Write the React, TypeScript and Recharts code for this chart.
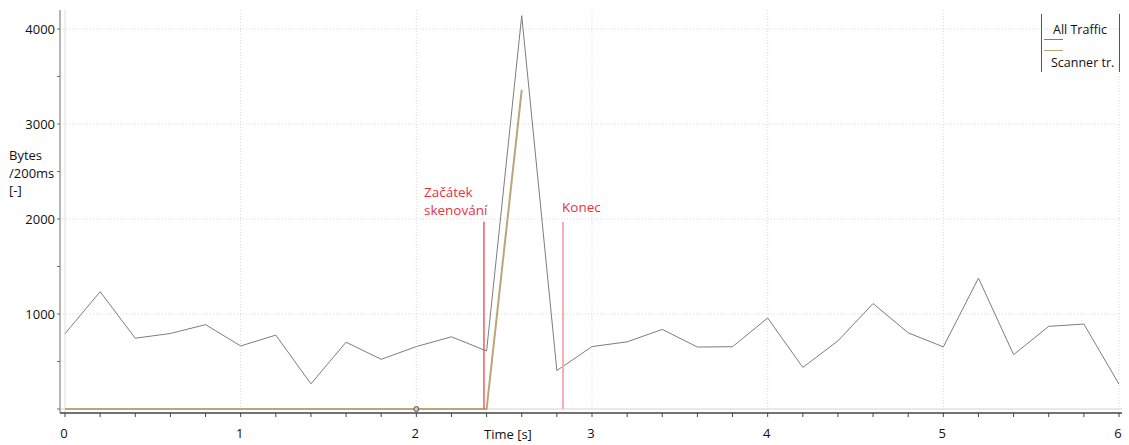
import React from 'react';
import {
  LineChart,
  Line,
  XAxis,
  YAxis,
  ReferenceLine,
  ReferenceDot,
  Legend,
} from 'recharts';

// Sample times in seconds (one sample every 200 ms)
const times = [
  0, 0.2, 0.4, 0.6, 0.8, 1, 1.2, 1.4, 1.6, 1.8, 2, 2.2, 2.4, 2.6, 2.8, 3,
  3.2, 3.4, 3.6, 3.8, 4, 4.2, 4.4, 4.6, 4.8, 5, 5.2, 5.4, 5.6, 5.8, 6,
];

// Bytes per 200 ms window, all traffic
const allTraffic = [
  793, 1235, 745, 795, 888, 664, 778, 265, 703, 523, 657, 760, 611, 4140, 405,
  657, 707, 838, 652, 656, 958, 438, 717, 1110, 802, 654, 1378, 572, 870, 894,
  262,
];

// Bytes per 200 ms window, scanner traffic only (recorded until 2.6 s)
const scannerTraffic: (number | null)[] = [
  0, 0, 0, 0, 0, 0, 0, 0, 0, 0, 0, 0, 0, 3360, null, null, null, null, null,
  null, null, null, null, null, null, null, null, null, null, null, null,
];

// Axis ticks
const xTicks = times;
const xLabelTicks = [0, 1, 2, 3, 4, 5, 6];
const yTicks = [0, 500, 1000, 1500, 2000, 2500, 3000, 3500, 4000];
const yLabelTicks = [1000, 2000, 3000, 4000];

// Scan markers
const scanStart = 2.385;
const scanEnd = 2.835;
const markerTop = 1970;
const startLabel = ['Začátek', 'skenování'];
const endLabel = 'Konec';

const seriesNames = { all: 'All Traffic', scanner: 'Scanner tr.' };
const yAxisTitle = ['Bytes', '/200ms', '[-]'];
const xAxisTitle = 'Time [s]';

const data = times.map((t, i) => ({
  t,
  all: allTraffic[i],
  scanner: scannerTraffic[i],
}));

const FONT = '"Open Sans", "Noto Sans", sans-serif';
const RED = '#e8323c';

const isLabelTick = (v: number, list: number[]) =>
  list.some((l) => Math.abs(l - v) < 1e-6);

const XTick = (props: any) => {
  const { x, y, payload } = props;
  if (!isLabelTick(payload.value, xLabelTicks)) return <g />;
  return (
    <text
      x={x - 1}
      y={y + 9}
      textAnchor="middle"
      fontFamily={FONT}
      fontSize={13}
      fill="#111"
    >
      {payload.value}
    </text>
  );
};

const YTick = (props: any) => {
  const { x, y, payload } = props;
  if (!isLabelTick(payload.value, yLabelTicks)) return <g />;
  return (
    <text
      x={x}
      y={y}
      dy="0.36em"
      textAnchor="end"
      fontFamily={FONT}
      fontSize={13}
      fill="#111"
    >
      {payload.value}
    </text>
  );
};

const LegendBox = (props: any) => {
  const payload = props.payload || [];
  const all = payload.find((p: any) => p.dataKey === 'all');
  const sc = payload.find((p: any) => p.dataKey === 'scanner');
  return (
    <div
      style={{
        position: 'relative',
        width: 77,
        height: 58,
        borderLeft: '1px solid #555',
        borderRight: '1px solid #555',
        fontFamily: FONT,
        fontSize: 12.5,
        color: '#111',
        lineHeight: '15px',
      }}
    >
      <div style={{ position: 'absolute', left: 11, top: 8, whiteSpace: 'nowrap' }}>
        {all ? all.value : ''}
      </div>
      <div
        style={{
          position: 'absolute',
          left: 2,
          top: 25,
          width: 19,
          height: 1,
          background: all ? all.color : '#808080',
        }}
      />
      <div
        style={{
          position: 'absolute',
          left: 2,
          top: 36,
          width: 19,
          height: 1,
          background: sc ? sc.color : '#b8a070',
        }}
      />
      <div style={{ position: 'absolute', left: 9, top: 41, whiteSpace: 'nowrap' }}>
        {sc ? sc.value : ''}
      </div>
    </div>
  );
};

const StartLabel = (props: any) => {
  const { viewBox } = props;
  const x = viewBox.x - 60;
  const y = viewBox.y - 25;
  return (
    <text x={x} y={y} fontFamily={FONT} fontSize={13.5} fill={RED}>
      <tspan x={x} y={y}>{startLabel[0]}</tspan>
      <tspan x={x} y={y + 18}>{startLabel[1]}</tspan>
    </text>
  );
};

const EndLabel = (props: any) => {
  const { viewBox } = props;
  return (
    <text
      x={viewBox.x - 1}
      y={viewBox.y - 10}
      fontFamily={FONT}
      fontSize={13.5}
      fill={RED}
    >
      {endLabel}
    </text>
  );
};

const YTitle = () => (
  <text fontFamily={FONT} fontSize={13} fill="#111">
    {yAxisTitle.map((s, i) => (
      <tspan key={s} x={9} y={160 + i * 17.5}>
        {s}
      </tspan>
    ))}
  </text>
);

const XTitle = (props: any) => {
  const { viewBox } = props;
  return (
    <text
      x={viewBox.x + 424}
      y={viewBox.y + 26}
      fontFamily={FONT}
      fontSize={13}
      fill="#111"
    >
      {xAxisTitle}
    </text>
  );
};

export default function App() {
  return (
    <div style={{ position: 'absolute', left: 0, top: 0 }}>
      <LineChart
        width={1129}
        height={445}
        data={data}
        margin={{ top: 10, right: 7, left: 0, bottom: 0 }}
      >
        <XAxis
          dataKey="t"
          type="number"
          domain={[0, 6]}
          ticks={xTicks}
          interval={0}
          padding={{ left: 5, right: 3 }}
          height={32}
          tickSize={4}
          tickMargin={12}
          stroke="#454545"
          strokeWidth={1.5}
          tickLine={{ stroke: '#454545', strokeWidth: 1 }}
          tick={<XTick />}
          label={<XTitle />}
        />
        <YAxis
          type="number"
          domain={[-42, 4200]}
          allowDataOverflow
          ticks={yTicks}
          interval={0}
          width={60}
          tickSize={3}
          tickMargin={2}
          stroke="#6e6e6e"
          tickLine={{ stroke: '#6e6e6e' }}
          tick={<YTick />}
          label={<YTitle />}
        />

        {/* grid */}
        {yLabelTicks.map((v) => (
          <ReferenceLine
            key={'gy' + v}
            y={v}
            stroke="#d9d9d9"
            strokeDasharray="1 2"
            ifOverflow="extendDomain"
          />
        ))}
        {xLabelTicks.slice(1).map((v) => (
          <ReferenceLine
            key={'gx' + v}
            x={v}
            stroke="#d9d9d9"
            strokeDasharray="1 2"
          />
        ))}
        <ReferenceLine y={0} stroke="#e2e2e2" strokeWidth={1.5} />
        <ReferenceLine x={0} stroke="#dedede" strokeWidth={1} />

        <Line
          type="linear"
          dataKey="all"
          name={seriesNames.all}
          stroke="#7d7d7d"
          strokeWidth={1}
          dot={false}
          activeDot={false}
          isAnimationActive={false}
        />
        <Line
          type="linear"
          dataKey="scanner"
          name={seriesNames.scanner}
          stroke="#bba57a"
          strokeWidth={2}
          dot={false}
          activeDot={false}
          connectNulls={false}
          isAnimationActive={false}
        />

        <ReferenceDot
          x={2}
          y={0}
          r={2.5}
          fill="#c8c8c8"
          stroke="#555"
          strokeWidth={1}
        />

        <ReferenceLine
          segment={[
            { x: scanStart, y: 0 },
            { x: scanStart, y: markerTop },
          ]}
          stroke="#e8444c"
          strokeWidth={1.3}
          label={<StartLabel />}
        />
        <ReferenceLine
          segment={[
            { x: scanEnd, y: 0 },
            { x: scanEnd, y: markerTop },
          ]}
          stroke="#f7adb3"
          strokeWidth={2}
          label={<EndLabel />}
        />

        <Legend
          layout="vertical"
          align="center"
          verticalAlign="middle"
          wrapperStyle={{ top: 14, left: 1041, width: 79, height: 58 }}
          content={<LegendBox />}
        />
      </LineChart>
    </div>
  );
}
